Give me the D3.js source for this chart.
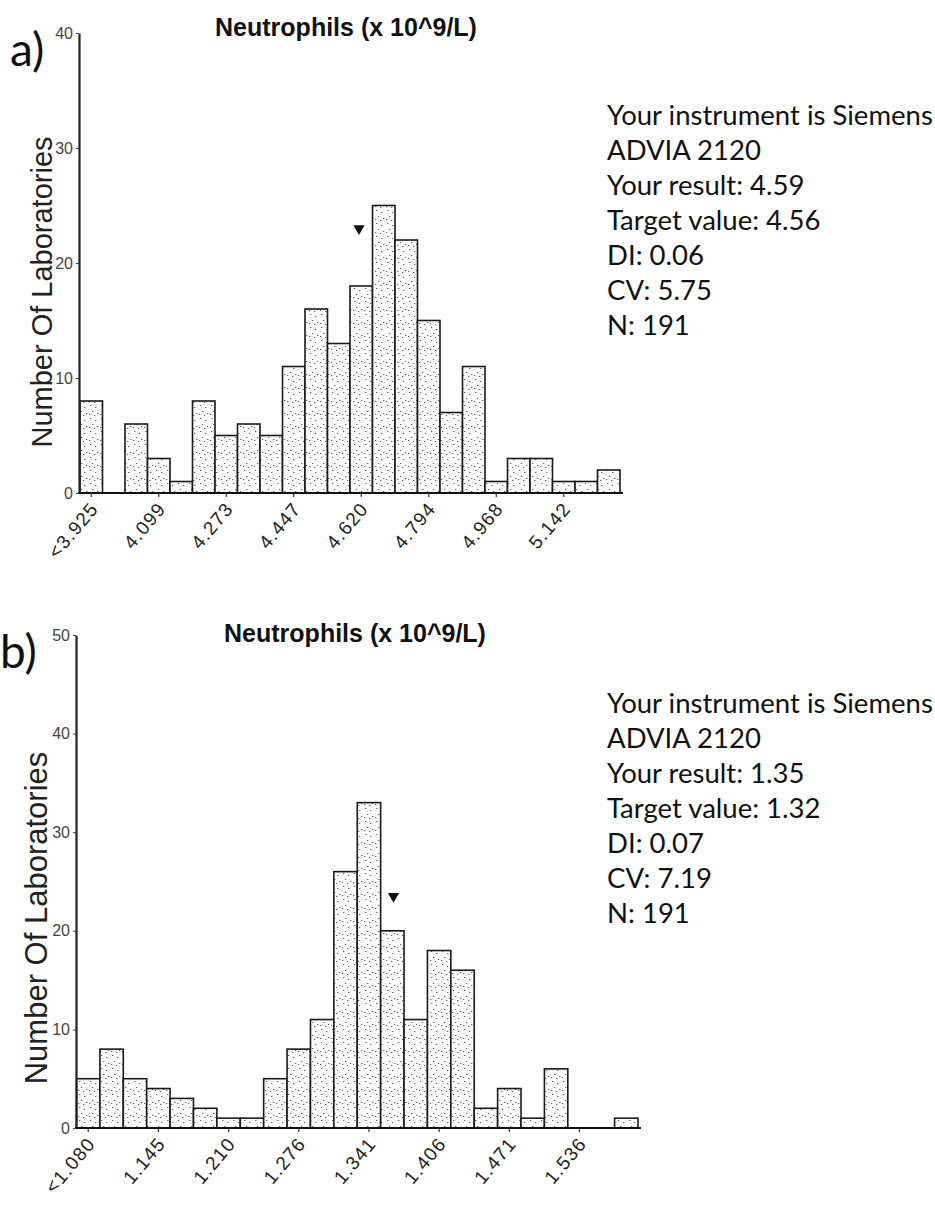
<!DOCTYPE html>
<html>
<head>
<meta charset="utf-8">
<script src="https://cdn.jsdelivr.net/npm/d3@7"></script>
<style>
body { margin: 0; background: #fff; }
text { fill: #111; }
</style>
</head>
<body>
<svg id="chart" width="935" height="1213"></svg>
<script>
// ---- data ----
var countsA = [8, 0, 6, 3, 1, 8, 5, 6, 5, 11, 16, 13, 18, 25, 22, 15, 7, 11, 1, 3, 3, 1, 1, 2];
var tickLabelsA = ["<3.925", "4.099", "4.273", "4.447", "4.620", "4.794", "4.968", "5.142"];
var infoA = ["Your instrument is Siemens", "ADVIA 2120", "Your result: 4.59", "Target value: 4.56", "DI: 0.06", "CV: 5.75", "N: 191"];
var markerA = {bin: 12.4, count: 23};

var countsB = [5, 8, 5, 4, 3, 2, 1, 1, 5, 8, 11, 26, 33, 20, 11, 18, 16, 2, 4, 1, 6, 0, 0, 1];
var tickLabelsB = ["<1.080", "1.145", "1.210", "1.276", "1.341", "1.406", "1.471", "1.536"];
var infoB = ["Your instrument is Siemens", "ADVIA 2120", "Your result: 1.35", "Target value: 1.32", "DI: 0.07", "CV: 7.19", "N: 191"];
var markerB = {bin: 13.55, count: 23.5};

var title = "Neutrophils (x 10^9/L)";
var yTitle = "Number Of Laboratories";

var svg = d3.select("#chart");

// stipple fill like the scanned bars
var defs = svg.append("defs");
var pat = defs.append("pattern").attr("id", "stipple")
	.attr("patternUnits", "userSpaceOnUse").attr("width", 11).attr("height", 13);
pat.append("rect").attr("width", 11).attr("height", 13).attr("fill", "#fbfbfb");
[[2, 2], [7, 4], [4, 8], [9, 10], [1, 11], [6, 12]].forEach(function(p) {
	pat.append("rect").attr("x", p[0]).attr("y", p[1]).attr("width", 1.3).attr("height", 1)
		.attr("fill", "#666");
});

function drawPanel(cfg) {
	var g = svg.append("g");
	var x = d3.scaleBand().domain(d3.range(cfg.counts.length))
		.range([cfg.left, cfg.right]).padding(0);
	var y = d3.scaleLinear().domain([0, cfg.ymax]).range([cfg.bottom, cfg.top]);
	var pos = d3.scaleLinear().domain([0, cfg.counts.length]).range([cfg.left, cfg.right]);

	// bars (empty bins are skipped)
	var bins = cfg.counts.map(function(d, i) { return {i: i, n: d}; })
		.filter(function(d) { return d.n > 0; });
	g.selectAll("rect.bar").data(bins).enter().append("rect")
		.attr("class", "bar")
		.attr("x", function(d) { return x(d.i); })
		.attr("y", function(d) { return y(d.n); })
		.attr("width", x.bandwidth())
		.attr("height", function(d) { return cfg.bottom - y(d.n); })
		.attr("fill", "url(#stipple)")
		.attr("stroke", "#1a1a1a")
		.attr("stroke-width", 1.6);

	// x axis, a label every third bin
	var idx = d3.range(0, cfg.counts.length, 3);
	var xAxis = d3.axisBottom(x)
		.tickValues(idx)
		.tickSize(4)
		.tickSizeOuter(0)
		.tickFormat(function(i) { return cfg.tickLabels[i / 3]; });
	var gx = g.append("g").attr("transform", "translate(0," + cfg.bottom + ")").call(xAxis);
	gx.select(".domain").attr("stroke", "#111").attr("stroke-width", 2.2)
		.attr("d", "M" + (cfg.axisX - 1) + ",0H" + (cfg.right + 3));
	gx.selectAll(".tick line").attr("stroke", "#333").attr("stroke-width", 1.2);
	gx.selectAll(".tick text")
		.attr("x", 0).attr("y", 0).attr("dy", "0.35em")
		.attr("transform", "translate(3,12) rotate(-50)")
		.style("text-anchor", "end")
		.style("font-family", "'Liberation Sans', Arial, sans-serif")
		.style("font-size", "19px")
		.style("letter-spacing", "1.2px")
		.style("fill", "#222");

	// y axis
	var yAxis = d3.axisLeft(y).tickValues(d3.range(0, cfg.ymax + 1, 10)).tickSize(3).tickSizeOuter(0);
	var gy = g.append("g").attr("transform", "translate(" + cfg.axisX + ",0)").call(yAxis);
	gy.select(".domain").attr("stroke", "#222").attr("stroke-width", 2.2);
	gy.selectAll(".tick line").attr("stroke", "#444");
	gy.selectAll(".tick text")
		.style("font-family", "'Liberation Sans Narrow', 'Liberation Sans', Arial, sans-serif")
		.style("font-size", "16px")
		.style("fill", "#444");

	// y title
	g.append("text")
		.attr("transform", "translate(" + cfg.yTitleX + "," + cfg.yTitleY + ") rotate(-90)")
		.attr("text-anchor", "middle")
		.style("font-family", "'Liberation Sans', Arial, sans-serif")
		.style("font-size", cfg.yTitleSize + "px")
		.style("fill", "#222")
		.text(yTitle);

	// chart title
	g.append("text")
		.attr("x", cfg.titleX).attr("y", cfg.titleY)
		.attr("text-anchor", "middle")
		.style("font-family", "'Liberation Sans', Arial, sans-serif")
		.style("font-weight", "bold")
		.style("font-size", "25px")
		.text(title);

	// panel letter
	g.append("text")
		.attr("x", cfg.letterX).attr("y", cfg.letterY)
		.style("font-family", "Lato, 'Open Sans', sans-serif")
		.style("font-size", "46px")
		.text(cfg.letter);

	// result marker
	g.append("path")
		.attr("d", d3.symbol(d3.symbolTriangle, 55)())
		.attr("transform", "translate(" + pos(cfg.marker.bin) + "," + y(cfg.marker.count) + ") rotate(180)")
		.attr("fill", "#111");

	// info block, sized so the first line fills the right margin
	var info = g.append("g");
	info.selectAll("text").data(cfg.info).enter().append("text")
		.attr("x", 607)
		.attr("y", function(d, i) { return cfg.infoY + i * 35; })
		.style("font-family", "Lato, 'Open Sans', sans-serif")
		.style("font-size", "26px")
		.text(function(d) { return d; });
	var w = info.select("text").node().getComputedTextLength();
	info.selectAll("text").style("font-size", (26 * 326 / w) + "px");
}

drawPanel({
	counts: countsA, tickLabels: tickLabelsA, info: infoA, marker: markerA, letter: "a)",
	left: 80, right: 620, axisX: 79, bottom: 493, top: 33, ymax: 40,
	yTitleX: 52, yTitleY: 292, yTitleSize: 29,
	titleX: 346, titleY: 36, letterX: 10, letterY: 66, infoY: 125
});

drawPanel({
	counts: countsB, tickLabels: tickLabelsB, info: infoB, marker: markerB, letter: "b)",
	left: 76.5, right: 638, axisX: 76, bottom: 1128, top: 635, ymax: 50,
	yTitleX: 47, yTitleY: 918, yTitleSize: 31,
	titleX: 355, titleY: 642, letterX: 0, letterY: 668, infoY: 713
});
</script>
</body>
</html>
